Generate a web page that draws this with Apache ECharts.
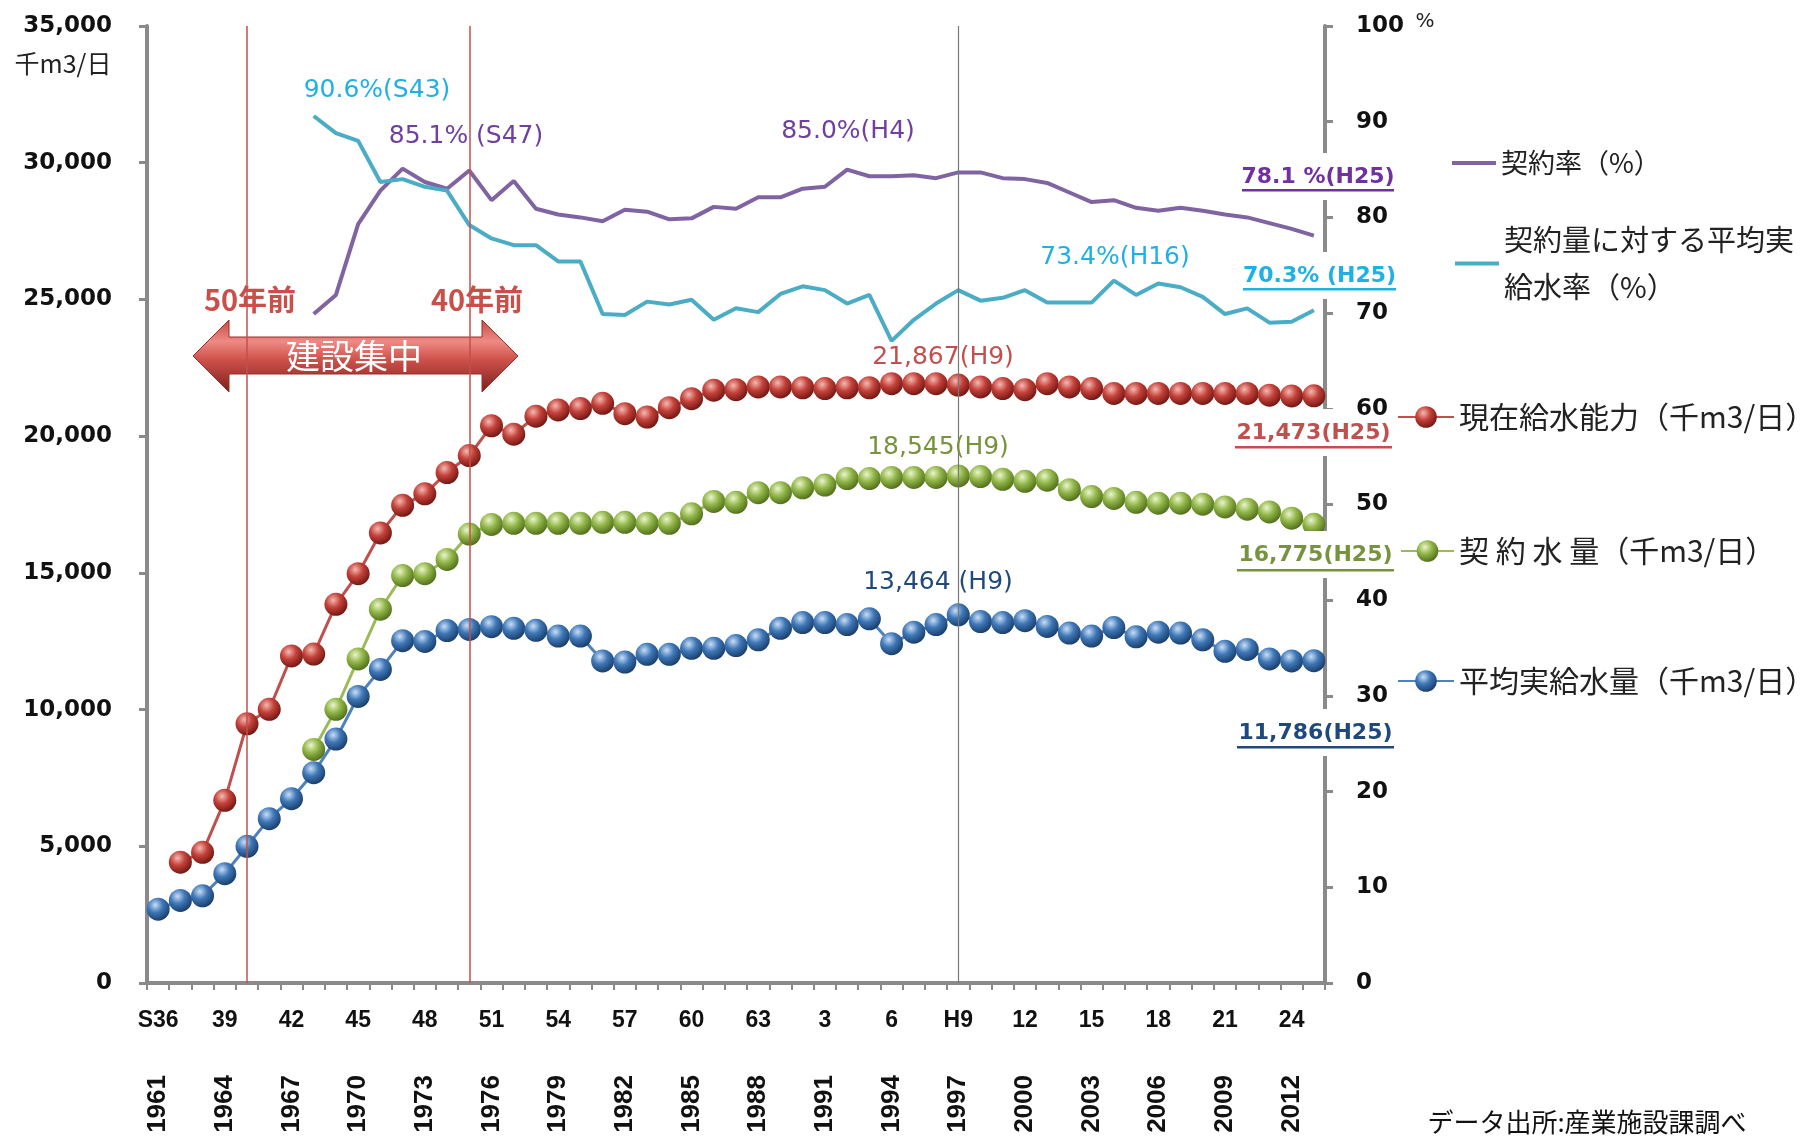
<!DOCTYPE html>
<html>
<head>
<meta charset="utf-8">
<script src="https://cdn.jsdelivr.net/npm/echarts@6/dist/echarts.min.js"></script>
<style>
html,body{margin:0;padding:0;background:#fff;}
#c{width:1818px;height:1139px;}
</style>
</head>
<body>
<div id="c"></div>
<script>
// ---------- data ----------
const years = [1961,1962,1963,1964,1965,1966,1967,1968,1969,1970,1971,1972,1973,1974,1975,1976,1977,1978,1979,1980,1981,1982,1983,1984,1985,1986,1987,1988,1989,1990,1991,1992,1993,1994,1995,1996,1997,1998,1999,2000,2001,2002,2003,2004,2005,2006,2007,2008,2009,2010,2011,2012,2013];
const eraLabels = ['S36','37','38','39','40','41','42','43','44','45','46','47','48','49','50','51','52','53','54','55','56','57','58','59','60','61','62','63','1','2','3','4','5','6','7','8','H9','10','11','12','13','14','15','16','17','18','19','20','21','22','23','24','25'];

// 現在給水能力 (千m3/日)
const capacity = [null,4420,4780,6680,9480,10010,11960,12030,13850,14970,16460,17470,17890,18670,19290,20380,20070,20730,20960,21010,21200,20820,20700,21040,21370,21680,21700,21800,21800,21770,21740,21770,21770,21920,21920,21920,21867,21800,21740,21700,21920,21800,21740,21560,21560,21560,21560,21560,21560,21560,21500,21470,21473];
// 契約水量 (千m3/日)
const contract = [null,null,null,null,null,null,null,8540,10010,11850,13670,14900,14970,15490,16420,16770,16810,16810,16810,16810,16850,16850,16810,16810,17160,17610,17580,17930,17930,18110,18210,18450,18450,18490,18490,18490,18545,18520,18420,18350,18390,18040,17790,17720,17580,17550,17550,17510,17410,17330,17230,17000,16775];
// 平均実給水量 (千m3/日)
const actual = [2700,3020,3190,4000,5000,6010,6740,7690,8920,10480,11470,12520,12490,12890,12930,13030,12970,12900,12690,12690,11780,11740,12020,12020,12240,12240,12340,12550,12970,13180,13180,13110,13320,12410,12830,13110,13464,13220,13180,13250,13040,12800,12690,13000,12660,12830,12800,12550,12130,12200,11850,11780,11786];
// 契約率 (%)
const contractRate = [null,null,null,null,null,null,null,69.9,71.9,79.3,82.8,85.1,83.7,83.0,84.9,81.8,83.8,80.9,80.3,80.0,79.6,80.8,80.6,79.8,79.9,81.1,80.9,82.1,82.1,83.0,83.2,85.0,84.3,84.3,84.4,84.1,84.7,84.7,84.1,84.0,83.6,82.6,81.6,81.8,81.0,80.7,81.0,80.7,80.3,80.0,79.4,78.8,78.1];
// 契約量に対する平均実給水率 (%)
const supplyRate = [null,null,null,null,null,null,null,90.6,88.8,88.0,83.7,84.0,83.2,82.8,79.2,77.8,77.1,77.1,75.4,75.4,69.9,69.8,71.2,70.9,71.4,69.3,70.5,70.1,72.0,72.8,72.4,71.0,71.9,67.1,69.3,71.0,72.4,71.3,71.6,72.4,71.1,71.1,71.1,73.4,71.9,73.1,72.7,71.7,69.9,70.5,69.0,69.1,70.3];

const leftAxisRange = [0, 35000, 5000];
const rightAxisRange = [0, 100, 10];
const markerYears = [1965, 1975];   // 50年前, 40年前
const h9Year = 1997;

const seriesNames = ['契約率（%）','契約量に対する平均実給水率（%）','現在給水能力（千m3/日）','契 約 水 量（千m3/日）','平均実給水量（千m3/日）'];

// ---------- annotations (texts) ----------
const peakLabels = [
  {text:'90.6%(S43)',  x:377,  y:90,  color:'#1fb0e4'},
  {text:'85.1% (S47)', x:466,  y:136, color:'#7040a0'},
  {text:'85.0%(H4)',   x:848,  y:131, color:'#7040a0'},
  {text:'73.4%(H16)',  x:1115, y:257, color:'#1fb0e4'},
  {text:'21,867(H9)',  x:943,  y:357, color:'#c0504d'},
  {text:'18,545(H9)',  x:938,  y:447, color:'#77933c'},
  {text:'13,464 (H9)', x:938,  y:582, color:'#1f497d'}
];
const endLabels = [
  {text:'78.1 %(H25)', cy:177, x1:1242, x2:1394, uy:190, color:'#7030a0'},
  {text:'70.3% (H25)', cy:276, x1:1243, x2:1396, uy:289, color:'#1fb0e4'},
  {text:'21,473(H25)', cy:433, x1:1235, x2:1392, uy:447, color:'#c0504d'},
  {text:'16,775(H25)', cy:555, x1:1237, x2:1394, uy:570, color:'#77933c'},
  {text:'11,786(H25)', cy:733, x1:1237, x2:1394, uy:747, color:'#1f497d'}
];

function ball(light, mid, dark){
  return {type:'radial', x:0.38, y:0.32, r:0.72, colorStops:[
    {offset:0, color:light},{offset:0.45, color:mid},{offset:1, color:dark}]};
}

const AXIS_GRAY = '#8a8a8a';
const cjk = '"Noto Sans CJK JP", "Noto Sans", sans-serif';

const graphics = [];
// unit labels
graphics.push({type:'text', z:100, style:{x:63, y:63, text:'千m3/日', font:'25px '+cjk, fill:'#222', align:'center', verticalAlign:'middle'}});
graphics.push({type:'text', z:100, style:{x:1425, y:22, text:'%', font:'20px "DejaVu Sans", sans-serif', fill:'#222', align:'center', verticalAlign:'middle'}});
// source
graphics.push({type:'text', z:100, style:{x:1587, y:1122, text:'データ出所:産業施設課調べ', font:'26px '+cjk, fill:'#111', align:'center', verticalAlign:'middle'}});
// 50年前 / 40年前
graphics.push({type:'text', z:1, style:{x:250, y:300, text:'50年前', font:'bold 29px '+cjk, fill:'#c9504a', align:'center', verticalAlign:'middle'}});
graphics.push({type:'text', z:1, style:{x:477, y:300, text:'40年前', font:'bold 29px '+cjk, fill:'#c9504a', align:'center', verticalAlign:'middle'}});
// double arrow 建設集中
graphics.push({type:'polygon', z:1, shape:{points:[[193,356],[229,320],[229,337],[482,337],[482,320],[518,356],[482,392],[482,374],[229,374],[229,392]]},
  style:{fill:{type:'linear', x:0, y:0, x2:0, y2:1, colorStops:[
    {offset:0,color:'#c44a44'},{offset:0.3,color:'#ee8a84'},{offset:0.55,color:'#cf514b'},{offset:1,color:'#7a1f1c'}]},
    stroke:'#9a2e2a', lineWidth:1}});
graphics.push({type:'text', z:2, style:{x:354, y:356, text:'建設集中', font:'34px '+cjk, fill:'#fff', align:'center', verticalAlign:'middle'}});
// peak labels
peakLabels.forEach(a => graphics.push({type:'text', z:100, style:{x:a.x, y:a.y, text:a.text, font:'25px "DejaVu Sans", sans-serif', fill:a.color, align:'center', verticalAlign:'middle'}}));
// end labels: white patch over the right axis line + text + underline
endLabels.forEach(a => {
  graphics.push({type:'rect', z:99, shape:{x:a.x1-2, y:a.cy-24, width:1346-(a.x1-2), height:47}, style:{fill:'#fff'}});
  graphics.push({type:'text', z:100, style:{x:(a.x1+a.x2)/2, y:a.cy, text:a.text, font:'bold 22px "DejaVu Sans", sans-serif', fill:a.color, align:'center', verticalAlign:'middle'}});
  graphics.push({type:'rect', z:101, shape:{x:a.x1, y:a.uy-1, width:a.x2-a.x1, height:2.5}, style:{fill:a.color}});
});

const chart = echarts.init(document.getElementById('c'), null, {renderer:'canvas'});

const legendTextSmall = {fontFamily:cjk, fontSize:27, color:'#222', lineHeight:32};
const legendTextBig = {fontFamily:cjk, fontSize:30, color:'#222', lineHeight:34};

const option = {
  animation:false,
  backgroundColor:'#fff',
  grid:{left:147, right:493, top:26, bottom:156, outerBoundsMode:'none', containLabel:false},
  legend:[
    {data:[{name:seriesNames[0], icon:'rect'}], left:1452, top:147, padding:0, itemWidth:44, itemHeight:4, textStyle:legendTextSmall, selectedMode:false},
    {data:[{name:seriesNames[1], icon:'rect'}], left:1455, top:193, padding:0, itemWidth:44, itemHeight:4, selectedMode:false,
     formatter:()=> '契約量に対する平均実\n給水率（%）',
     textStyle:{fontFamily:cjk, fontSize:29, color:'#222', lineHeight:47, padding:[47,0,0,0]}},
    {data:[seriesNames[2]], left:1397, top:400, padding:0, itemWidth:56, itemHeight:27, textStyle:legendTextBig, selectedMode:false},
    {data:[seriesNames[3]], left:1400, top:534, padding:0, itemWidth:53, itemHeight:27, textStyle:legendTextBig, selectedMode:false},
    {data:[seriesNames[4]], left:1397, top:664, padding:0, itemWidth:56, itemHeight:27, textStyle:legendTextBig, selectedMode:false}
  ],
  xAxis:[
    {type:'category', data:eraLabels, position:'bottom', boundaryGap:true,
     axisLine:{show:true, lineStyle:{color:AXIS_GRAY, width:4}},
     axisTick:{show:true, interval:0, length:7, lineStyle:{color:AXIS_GRAY, width:2}},
     axisLabel:{interval:2, margin:26, color:'#111', fontWeight:'bold', fontSize:23, fontFamily:'"Liberation Sans Narrow", "Liberation Sans", Arial, sans-serif'},
     splitLine:{show:false}},
    {type:'category', data:years.map(String), position:'bottom', boundaryGap:true,
     axisLine:{show:false}, axisTick:{show:false},
     axisLabel:{interval:2, rotate:90, margin:92, color:'#111', fontWeight:'bold', fontSize:26, fontFamily:'"Liberation Sans", Arial, sans-serif'},
     splitLine:{show:false}}
  ],
  yAxis:[
    {type:'value', position:'left', min:leftAxisRange[0], max:leftAxisRange[1], interval:leftAxisRange[2],
     axisLine:{show:true, lineStyle:{color:AXIS_GRAY, width:4}},
     axisTick:{show:true, length:8, lineStyle:{color:AXIS_GRAY, width:3}},
     axisLabel:{margin:35, color:'#111', fontWeight:'bold', fontSize:23, fontFamily:'"DejaVu Sans", sans-serif',
       formatter:v=>v.toLocaleString('en-US')},
     splitLine:{show:false}},
    {type:'value', position:'right', min:rightAxisRange[0], max:rightAxisRange[1], interval:rightAxisRange[2],
     axisLine:{show:true, lineStyle:{color:AXIS_GRAY, width:4}},
     axisTick:{show:true, length:8, lineStyle:{color:AXIS_GRAY, width:3}},
     axisLabel:{margin:31, color:'#111', fontWeight:'bold', fontSize:23, fontFamily:'"DejaVu Sans", sans-serif'},
     splitLine:{show:false}}
  ],
  series:[
    {name:seriesNames[4], type:'line', xAxisIndex:0, yAxisIndex:0, data:actual, z:3,
     symbol:'circle', symbolSize:23, showSymbol:true, showAllSymbol:true,
     lineStyle:{color:'#4f81bd', width:3}, itemStyle:{color:ball('#c9ddf5','#3f78b8','#173a66')},
     markLine:{silent:true, symbol:['none','none'], label:{show:false}, animation:false,
       data:[
         {xAxis:years.indexOf(markerYears[0]), lineStyle:{color:'#c0504d', width:1.5, type:'solid'}},
         {xAxis:years.indexOf(markerYears[1]), lineStyle:{color:'#c0504d', width:1.5, type:'solid'}},
         {xAxis:years.indexOf(h9Year), lineStyle:{color:'#777', width:1.2, type:'solid'}}
       ]}},
    {name:seriesNames[3], type:'line', xAxisIndex:0, yAxisIndex:0, data:contract, z:3,
     symbol:'circle', symbolSize:23, showSymbol:true, showAllSymbol:true,
     lineStyle:{color:'#9bbb59', width:3}, itemStyle:{color:ball('#eaf5cc','#93b74a','#4d6b18')}},
    {name:seriesNames[2], type:'line', xAxisIndex:0, yAxisIndex:0, data:capacity, z:3,
     symbol:'circle', symbolSize:23, showSymbol:true, showAllSymbol:true,
     lineStyle:{color:'#c0504d', width:3}, itemStyle:{color:ball('#f4b9b0','#c4423b','#6e1410')}},
    {name:seriesNames[0], type:'line', xAxisIndex:0, yAxisIndex:1, data:contractRate, z:4,
     symbol:'none', showSymbol:false,
     lineStyle:{color:'#8064a2', width:4}, itemStyle:{color:'#8064a2'}},
    {name:seriesNames[1], type:'line', xAxisIndex:0, yAxisIndex:1, data:supplyRate, z:4,
     symbol:'none', showSymbol:false,
     lineStyle:{color:'#4bacc6', width:4}, itemStyle:{color:'#4bacc6'}}
  ],
  graphic:graphics
};
chart.setOption(option);
</script>
</body>
</html>
